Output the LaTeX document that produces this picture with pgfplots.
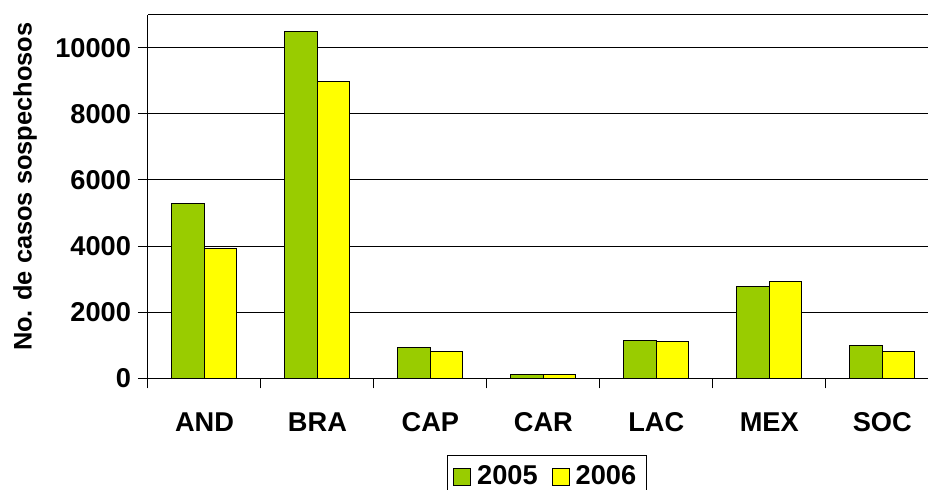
\documentclass[border=0pt]{standalone}
\usepackage{pgfplots}
\pgfplotsset{compat=1.18}
\usepackage{fontspec}
\setmainfont{Liberation Sans}
\definecolor{cgreen}{HTML}{99CC00}
\definecolor{cyellow}{HTML}{FFFF00}
\newcommand{\lf}{\bfseries\fontsize{13.6}{16}\selectfont}
\begin{document}
\begin{tikzpicture}
\useasboundingbox (0,0) rectangle (464pt,244.5pt);
\begin{axis}[
  at={(74pt,55.35pt)}, anchor=south west,
  scale only axis, width=390pt, height=181.8pt,
  xmin=-0.5, xmax=6.405, ymin=0, ymax=11000,
  ybar=0pt, bar width=16.25pt,
  axis lines*=left,
  axis line style={line width=0.5pt},
  tick align=outside,
  major tick length=5pt,
  tick style={black, line width=0.5pt},
  xtick={-0.5,0.5,1.5,2.5,3.5,4.5,5.5},
  xticklabels={},
  extra x ticks={0,1,2,3,4,5,6},
  extra x tick labels={AND,BRA,CAP,CAR,LAC,MEX,SOC},
  extra x tick style={major tick length=0pt, grid=none,
     xticklabel style={anchor=north, yshift=-13.5pt, font=\lf}},
  ytick={0,2000,4000,6000,8000,10000},
  scaled y ticks=false,
  extra y ticks={11000},
  extra y tick labels={},
  extra y tick style={major tick length=0pt},
  ymajorgrids,
  grid style={black, line width=0.5pt},
  /pgf/number format/assume math mode=true,
  /pgf/number format/1000 sep={},
  yticklabel style={font=\lf},
  ylabel={No. de casos sospechosos},
  ylabel style={at={(axis description cs:-0.1577,0.527)}, anchor=center,
     font=\bfseries\fontsize{12.7}{15}\selectfont},
  legend columns=2,
  legend style={at={(0.383,-0.211)}, anchor=north west, draw=black, line width=0.5pt,
    font=\lf, inner sep=3pt,
    /tikz/every odd column/.append style={column sep=1pt},
    /tikz/every even column/.append style={column sep=5pt}},
  legend image code/.code={\draw[#1, draw=black, line width=0.5pt] (0pt,-4.25pt) rectangle (8.5pt,4.25pt);},
]
\addplot[fill=cgreen, draw=black, line width=0.5pt] coordinates {(0,5300) (1,10480) (2,930) (3,130) (4,1150) (5,2780) (6,980)};
\addplot[fill=cyellow, draw=black, line width=0.5pt] coordinates {(0,3930) (1,8990) (2,800) (3,130) (4,1120) (5,2940) (6,810)};
\legend{2005,2006}
\end{axis}
\end{tikzpicture}
\end{document}
